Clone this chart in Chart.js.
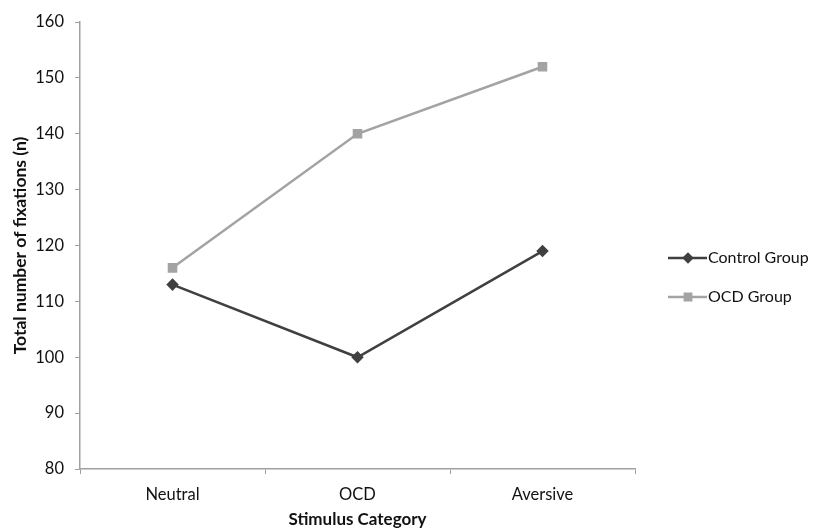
<!DOCTYPE html>
<html>
<head>
<meta charset="utf-8">
<script src="https://cdn.jsdelivr.net/npm/chart.js@4/dist/chart.umd.min.js"></script>
<style>
  body { margin: 0; background: #fff; }
  #wrap { width: 814px; height: 530px; }
</style>
</head>
<body>
<div id="wrap"><canvas id="chart" width="814" height="530"></canvas></div>
<script>
// data
var categories = ['Neutral', 'OCD', 'Aversive'];
var controlGroup = [113, 100, 119];
var ocdGroup = [116, 140, 152];
var yTicks = [80, 90, 100, 110, 120, 130, 140, 150, 160];

var fontFam = "Lato, 'Open Sans', sans-serif";

// legend drawn on the right, line with the marker in the middle
var sideLegend = {
    id: 'sideLegend',
    afterDraw: function(chart) {
        var ctx = chart.ctx;
        var rows = [258, 297];
        chart.data.datasets.forEach(function(ds, i) {
            var y = rows[i];
            ctx.save();
            ctx.strokeStyle = ds.borderColor;
            ctx.lineWidth = ds.borderWidth;
            ctx.beginPath();
            ctx.moveTo(668, y);
            ctx.lineTo(707, y);
            ctx.stroke();
            ctx.fillStyle = ds.pointBackgroundColor;
            ctx.strokeStyle = ds.pointBorderColor;
            Chart.helpers.drawPoint(ctx, {
                pointStyle: ds.pointStyle,
                radius: i === 0 ? 4 : 4.5,
                borderWidth: 1
            }, 688, y);
            ctx.fillStyle = '#111';
            ctx.font = '16px ' + fontFam;
            ctx.textBaseline = 'middle';
            ctx.fillText(ds.label, 708, y);
            ctx.restore();
        });
    }
};

new Chart(document.getElementById('chart'), {
    type: 'line',
    data: {
        labels: categories,
        datasets: [{
            label: 'Control Group',
            data: controlGroup,
            borderColor: '#404040',
            backgroundColor: '#404040',
            pointBackgroundColor: '#404040',
            pointBorderColor: '#404040',
            borderWidth: 2.5,
            pointStyle: 'rectRot',
            pointRadius: 4.5,
            tension: 0
        }, {
            label: 'OCD Group',
            data: ocdGroup,
            borderColor: '#a3a3a3',
            backgroundColor: '#a3a3a3',
            pointBackgroundColor: '#a3a3a3',
            pointBorderColor: '#a3a3a3',
            borderWidth: 2.5,
            pointStyle: 'rect',
            pointRadius: 5,
            tension: 0
        }]
    },
    options: {
        responsive: false,
        animation: false,
        layout: { padding: { top: 22, right: 179, left: 0, bottom: 0 } },
        plugins: {
            legend: { display: false },
            tooltip: { enabled: false }
        },
        scales: {
            x: {
                offset: true,
                grid: { offset: true, drawOnChartArea: false, tickLength: 5, color: '#a0a0a0' },
                border: { color: '#a0a0a0', width: 1.5 },
                ticks: { color: '#111', font: { family: fontFam, size: 16.5 }, padding: 11 },
                title: { display: true, text: 'Stimulus Category', color: '#111',
                         font: { family: fontFam, size: 17, weight: 'bold' }, padding: { top: 2, bottom: 0 } },
                afterFit: function(s) { s.height = 61; }
            },
            y: {
                min: 80,
                max: 160,
                afterBuildTicks: function(s) { s.ticks = yTicks.map(function(v) { return { value: v }; }); },
                grid: { drawOnChartArea: false, tickLength: 5, color: '#a0a0a0' },
                border: { color: '#a0a0a0', width: 1.5 },
                ticks: { color: '#111', font: { family: fontFam, size: 16.5 }, padding: 11 },
                title: { display: true, text: 'Total number of fixations (n)', color: '#111',
                         font: { family: fontFam, size: 17.5, weight: 'bold' }, padding: { top: 10, bottom: 0 } },
                afterFit: function(s) { s.width = 80; }
            }
        }
    },
    plugins: [sideLegend]
});
</script>
</body>
</html>
